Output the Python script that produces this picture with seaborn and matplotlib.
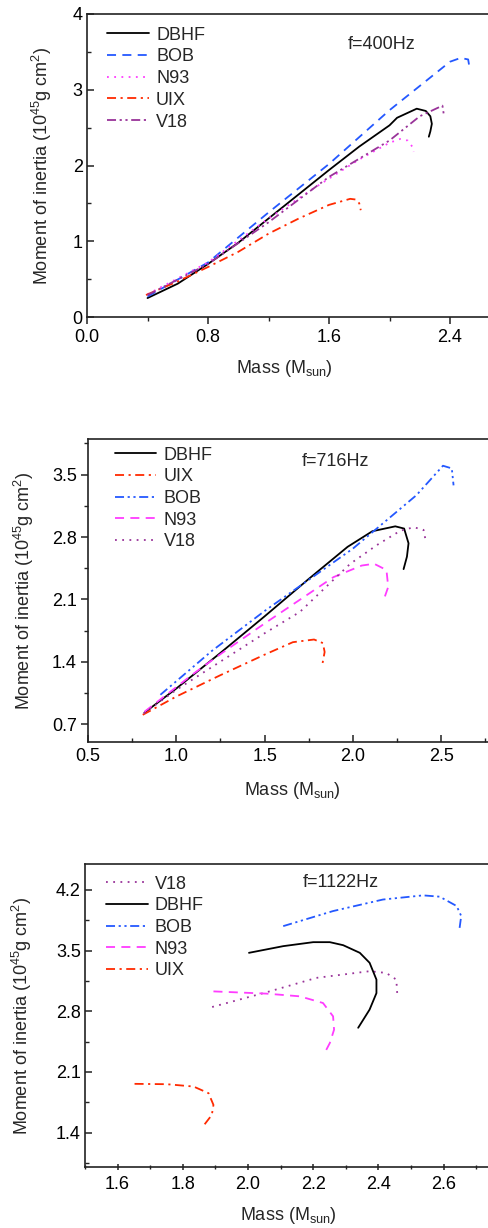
import matplotlib
matplotlib.use("Agg")
import matplotlib.pyplot as plt
import seaborn as sns
from matplotlib.ticker import MultipleLocator, FuncFormatter

# -------------------------------
# data (mass in M_sun, I in 10^45 g cm^2)
# -------------------------------
# f = 400 Hz
m400_dbhf = [0.40, 0.60, 0.80, 1.00, 1.20, 1.40, 1.60, 1.80, 2.00, 2.05, 2.18, 2.24, 2.27, 2.28, 2.27, 2.26]
i400_dbhf = [0.25, 0.44, 0.70, 0.98, 1.30, 1.62, 1.94, 2.25, 2.53, 2.63, 2.75, 2.72, 2.65, 2.55, 2.45, 2.38]
m400_bob = [0.40, 0.80, 1.20, 1.60, 2.00, 2.20, 2.40, 2.47, 2.52, 2.53]
i400_bob = [0.27, 0.72, 1.38, 2.02, 2.73, 3.05, 3.37, 3.42, 3.40, 3.28]
m400_n93 = [0.40, 0.80, 1.20, 1.50, 1.80, 2.00, 2.07, 2.12, 2.15, 2.16]
i400_n93 = [0.30, 0.72, 1.30, 1.70, 2.08, 2.30, 2.35, 2.33, 2.25, 2.18]
m400_uix = [0.39, 0.60, 0.80, 1.00, 1.20, 1.40, 1.60, 1.74, 1.78, 1.80, 1.81]
i400_uix = [0.29, 0.47, 0.66, 0.86, 1.10, 1.30, 1.48, 1.56, 1.55, 1.50, 1.41]
m400_v18 = [0.40, 0.80, 1.20, 1.60, 2.00, 2.20, 2.35, 2.36]
i400_v18 = [0.29, 0.70, 1.25, 1.85, 2.33, 2.65, 2.79, 2.66]

# f = 716 Hz
m716_dbhf = [0.82, 1.00, 1.25, 1.50, 1.75, 1.97, 2.11, 2.24, 2.29, 2.315, 2.306, 2.287]
i716_dbhf = [0.83, 1.10, 1.50, 1.91, 2.33, 2.69, 2.865, 2.92, 2.895, 2.73, 2.58, 2.44]
m716_uix = [0.81, 1.00, 1.25, 1.50, 1.66, 1.78, 1.83, 1.84, 1.825]
i716_uix = [0.805, 1.01, 1.25, 1.48, 1.62, 1.65, 1.61, 1.51, 1.35]
m716_bob = [0.91, 1.20, 1.50, 2.00, 2.36, 2.51, 2.56, 2.57]
i716_bob = [1.03, 1.52, 1.97, 2.67, 3.27, 3.60, 3.57, 3.38]
m716_n93 = [0.82, 1.10, 1.26, 1.50, 1.89, 2.05, 2.12, 2.19, 2.20, 2.17]
i716_n93 = [0.84, 1.27, 1.50, 1.83, 2.35, 2.48, 2.50, 2.43, 2.24, 2.07]
m716_v18 = [0.815, 1.00, 1.50, 1.70, 1.985, 2.136, 2.268, 2.345, 2.40, 2.41]
i716_v18 = [0.82, 1.085, 1.72, 1.96, 2.50, 2.71, 2.87, 2.91, 2.88, 2.78]

# f = 1122 Hz
m1122_v18 = [1.89, 2.057, 2.21, 2.373, 2.424, 2.455, 2.458]
i1122_v18 = [2.85, 3.02, 3.186, 3.263, 3.243, 3.166, 2.99]
m1122_dbhf = [2.003, 2.108, 2.20, 2.251, 2.292, 2.343, 2.373, 2.394, 2.394, 2.373, 2.338]
i1122_dbhf = [3.475, 3.552, 3.598, 3.598, 3.563, 3.475, 3.36, 3.166, 3.01, 2.82, 2.61]
m1122_bob = [2.108, 2.261, 2.414, 2.537, 2.588, 2.64, 2.654, 2.649]
i1122_bob = [3.783, 3.957, 4.09, 4.138, 4.123, 4.015, 3.90, 3.76]
m1122_n93 = [1.894, 2.057, 2.159, 2.23, 2.261, 2.264, 2.251, 2.236]
i1122_n93 = [3.03, 3.004, 2.973, 2.896, 2.742, 2.588, 2.434, 2.326]
m1122_uix = [1.652, 1.751, 1.833, 1.879, 1.894, 1.889, 1.863]
i1122_uix = [1.963, 1.959, 1.932, 1.855, 1.72, 1.604, 1.477]

# -------------------------------
# styles
# -------------------------------
C_DBHF = "black"
C_BOB = "#2458ff"
C_N93 = "#ff3cff"
C_UIX = "#ff2a00"
C_V18 = "#993399"

SOLID = "-"
DASHED = (0, (5, 3.5))
DOTTED = (0, (1, 3))
DASHDOT = (0, (5, 2.5, 1.2, 2.5))
DASHDOTDOT = (0, (5, 2, 1.2, 2, 1.2, 2))

sns.set_theme(style="ticks")
plt.rcParams["font.family"] = ["Liberation Sans", "DejaVu Sans"]
plt.rcParams["mathtext.fontset"] = "custom"
plt.rcParams["mathtext.rm"] = "Liberation Sans"
plt.rcParams["mathtext.it"] = "Liberation Sans:italic"
plt.rcParams["axes.linewidth"] = 1.2
plt.rcParams["axes.edgecolor"] = "#222222"

FS = 13
YLABEL = "Moment of inertia (10$^{45}$g cm$^{2}$)"
XLABEL = "Mass (M$_{\\rm sun}$)"

fig = plt.figure(figsize=(4.88, 12.28), dpi=100)


def make_fmt(digits, xmax_shown):
    # hide labels of ticks that fall outside the cropped figure
    def f(v, pos):
        if v > xmax_shown:
            return ""
        return f"{v:.{digits}f}"
    return FuncFormatter(f)


def draw(ax, curves, xlim, ylim, xmaj, xmin, ymaj, ymin, xdir, ydir,
         xdig, ydig, xshow, tag, tag_xy, leg_xy, ylab_x, xlab_xy):
    for x, y, lab, col, ls in curves:
        sns.lineplot(x=x, y=y, ax=ax, sort=False, estimator=None, color=col,
                     linestyle=ls, linewidth=1.3, label=lab)
    ax.set_xlim(*xlim)
    ax.set_ylim(*ylim)
    ax.xaxis.set_major_locator(MultipleLocator(xmaj))
    ax.xaxis.set_minor_locator(MultipleLocator(xmin))
    ax.yaxis.set_major_locator(MultipleLocator(ymaj))
    ax.yaxis.set_minor_locator(MultipleLocator(ymin))
    ax.xaxis.set_major_formatter(make_fmt(xdig, xshow))
    ax.yaxis.set_major_formatter(make_fmt(ydig, 99))
    ax.tick_params(axis="x", which="major", direction=xdir, length=5, width=1.1,
                   labelsize=FS, pad=4, colors="#222222", labelcolor="black")
    ax.tick_params(axis="x", which="minor", direction=xdir, length=3, width=1.0,
                   colors="#222222")
    ax.tick_params(axis="y", which="major", direction=ydir, length=5, width=1.1,
                   labelsize=FS, pad=3, colors="#222222", labelcolor="black")
    ax.tick_params(axis="y", which="minor", direction=ydir, length=3, width=1.0,
                   colors="#222222")
    ax.set_ylabel(YLABEL, fontsize=FS)
    ax.set_xlabel(XLABEL, fontsize=FS, va="top")
    ax.yaxis.set_label_coords(ylab_x, 0.5)
    ax.xaxis.set_label_coords(*xlab_xy)
    ax.text(tag_xy[0], tag_xy[1], tag, transform=ax.transAxes, fontsize=FS,
            ha="left", va="center")
    ax.legend(loc="upper left", bbox_to_anchor=leg_xy, frameon=False, fontsize=FS,
              handlelength=2.3, handletextpad=0.4, labelspacing=0.26,
              borderaxespad=0, borderpad=0)


# ---- f = 400 Hz
ax1 = fig.add_axes([87 / 488, 1 - 317 / 1228, 423.5 / 488, 303 / 1228])
draw(ax1,
     [(m400_dbhf, i400_dbhf, "DBHF", C_DBHF, SOLID),
      (m400_bob, i400_bob, "BOB", C_BOB, DASHED),
      (m400_n93, i400_n93, "N93", C_N93, DOTTED),
      (m400_uix, i400_uix, "UIX", C_UIX, DASHDOT),
      (m400_v18, i400_v18, "V18", C_V18, DASHDOTDOT)],
     (0, 2.8), (0, 4), 0.8, 0.4, 1, 0.5, "out", "in",
     1, 0, 2.5, "f=400Hz", (0.616, 0.90),
     (0.048, 0.958), -0.078, (0.467, -0.135))

# ---- f = 716 Hz
ax2 = fig.add_axes([88 / 488, 1 - 742 / 1228, 441.5 / 488, 303 / 1228])
draw(ax2,
     [(m716_dbhf, i716_dbhf, "DBHF", C_DBHF, SOLID),
      (m716_uix, i716_uix, "UIX", C_UIX, DASHDOT),
      (m716_bob, i716_bob, "BOB", C_BOB, DASHDOTDOT),
      (m716_n93, i716_n93, "N93", C_N93, DASHED),
      (m716_v18, i716_v18, "V18", C_V18, DOTTED)],
     (0.5, 3.0), (0.5, 3.9), 0.5, 0.25, 0.7, 0.35, "in", "out",
     1, 1, 2.6, "f=716Hz", (0.485, 0.925),
     (0.061, 0.975), -0.118, (0.462, -0.125))

# ---- f = 1122 Hz
ax3 = fig.add_axes([85 / 488, 1 - 1167.3 / 1228, 423.8 / 488, 303.3 / 1228])
draw(ax3,
     [(m1122_v18, i1122_v18, "V18", C_V18, DOTTED),
      (m1122_dbhf, i1122_dbhf, "DBHF", C_DBHF, SOLID),
      (m1122_bob, i1122_bob, "BOB", C_BOB, DASHDOTDOT),
      (m1122_n93, i1122_n93, "N93", C_N93, DASHED),
      (m1122_uix, i1122_uix, "UIX", C_UIX, DASHDOT)],
     (1.5, 2.8), (1.0, 4.5), 0.2, 0.1, 0.7, 0.35, "inout", "in",
     1, 1, 2.65, "f=1122Hz", (0.514, 0.939),
     (0.05, 0.962), -0.12, (0.479, -0.125))

fig.savefig("out.png", dpi=100)
